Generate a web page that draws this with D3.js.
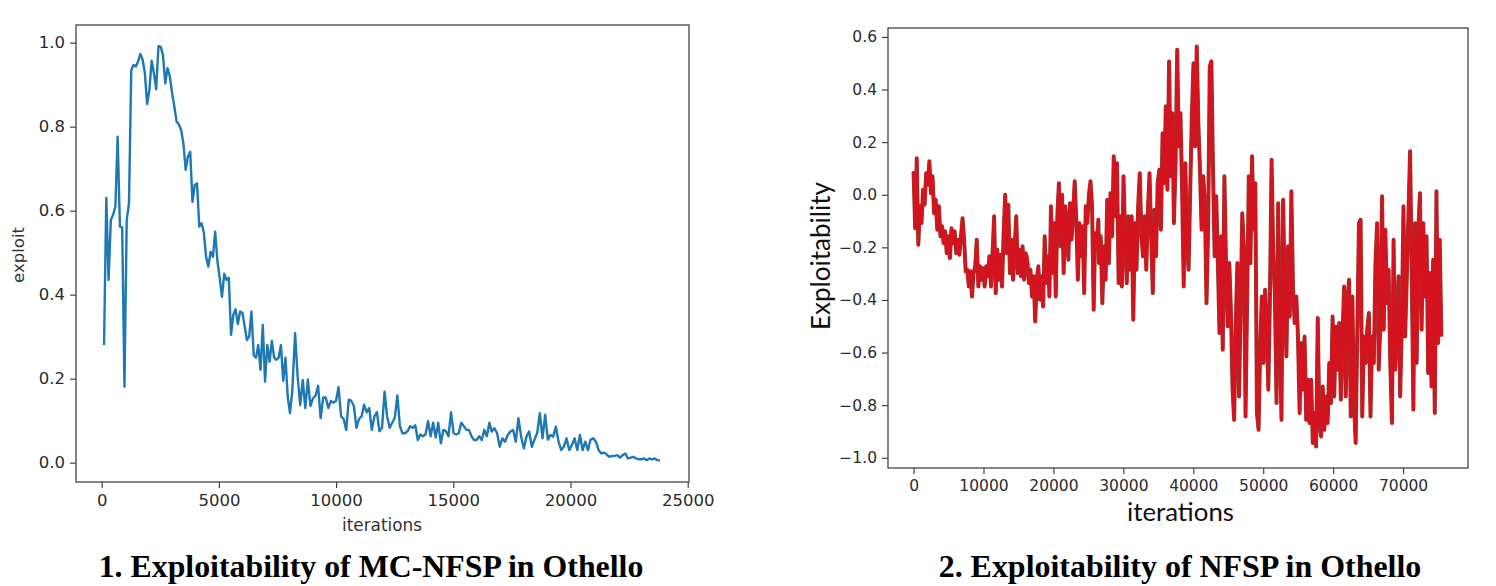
<!DOCTYPE html>
<html><head><meta charset="utf-8">
<script src="https://cdn.jsdelivr.net/npm/d3@7"></script>
<style>body{margin:0;background:#fff}</style>
</head><body><svg id="c" width="1496" height="586"></svg>
<script>
// ---- Chart 1: MC-NFSP exploitability ----
const mcValuesA = [0.28,0.63,0.435,0.578,0.59,0.61,0.776,0.562,0.56,0.181,
0.578,0.617,0.935,0.947,0.943,0.955,0.973,0.96,0.927,0.854,
0.887,0.957,0.927,0.889,0.992,0.99,0.97,0.903,0.939,0.92,
0.88,0.848,0.812,0.805,0.792,0.76,0.697,0.729,0.74,0.621,
0.661,0.665,0.562,0.57,0.548,0.49,0.467,0.502,0.49,0.55,
0.48,0.44,0.395,0.45,0.435,0.44,0.304,0.352,0.365,0.33,
0.36,0.357,0.325,0.292,0.30,0.36,0.256,0.25,0.28,0.221,
0.328,0.193,0.28,0.24,0.29,0.25,0.245,0.25,0.28,0.195,
0.25,0.157,0.118,0.17];
const mcValuesB = [0.308,0.205,0.137,0.197,0.13,0.198,0.135,0.153,0.16,0.183,
0.106,0.155,0.155,0.13,0.147,0.143,0.147,0.18,0.11,0.104,
0.078,0.15,0.147,0.135,0.083,0.104,0.11,0.138,0.12,0.13,
0.078,0.11,0.12,0.075,0.083,0.169,0.11,0.083,0.095,0.107,
0.16,0.087,0.07,0.07,0.075,0.087,0.083,0.089,0.054,0.067,
0.063,0.067,0.099,0.063,0.095,0.06,0.095,0.046,0.078,0.075,
0.063,0.12,0.07,0.067,0.07,0.095,0.087,0.078,0.078,0.063,
0.054,0.054,0.063,0.054,0.078,0.063,0.095];
const mcValuesC = [0.074,0.082,0.07,0.038,0.058,0.05,0.066,0.074,0.078,0.05,
0.106,0.062,0.034,0.062,0.074,0.038,0.055,0.07,0.118,0.058,
0.114,0.055,0.066,0.062,0.086,0.05,0.03,0.038,0.058,0.03,
0.042,0.058,0.03,0.066,0.03,0.05,0.03,0.055,0.058,0.05,
0.03,0.022,0.024,0.02,0.014,0.016,0.016,0.018,0.012,0.018,
0.022,0.01,0.012,0.014,0.01,0.008,0.008,0.01,0.006,0.01,
0.008,0.01,0.006,0.005];
const mcSpans = [[100,8130],[8250,16540],[16640,23820]];
const mcXTicks = [0,5000,10000,15000,20000,25000];
const mcYTicks = [0.0,0.2,0.4,0.6,0.8,1.0];

// ---- Chart 2: NFSP exploitability ----
const nfValuesA = [0.089,-0.127,0.139,-0.19,-0.044,-0.108,0.019,-0.038,0.082,0.038,
0.127,0.006,0.07,-0.07,-0.019,-0.133,-0.044,-0.158,-0.12,-0.184,
-0.139,-0.222,-0.158,-0.241,-0.127,-0.184,-0.139,-0.222,-0.171,-0.228,
-0.158,-0.089,-0.171,-0.291,-0.285,-0.349,-0.291,-0.387,-0.298,-0.272,
-0.171,-0.349,-0.272,-0.323,-0.279,-0.349,-0.272,-0.31,-0.234,-0.349,
-0.222,-0.082,-0.374,-0.209,-0.323,-0.228,-0.349,-0.146,0,-0.222,
-0.038,-0.298,-0.171,-0.323,-0.196,-0.082,-0.298,-0.209,-0.31,-0.196,
-0.323,-0.222,-0.247,-0.336,-0.285,-0.387,-0.31,-0.482,-0.323,-0.272,
-0.399,-0.31,-0.425,-0.158,-0.336,-0.234,-0.387,-0.044,-0.298,-0.108,
-0.387,-0.082,0.044,-0.196,0,-0.298,-0.044,-0.12,-0.247,-0.032,
-0.171,-0.07,0.051,-0.095,-0.323,-0.108,-0.234,-0.12,-0.374,-0.044,
-0.108,0,0.051,-0.044,-0.437,-0.146,-0.196,-0.095];
const nfValuesB = [-0.26,-0.158,-0.412,-0.196,-0.323,-0.019,-0.26,0.006,-0.158,0.146,
-0.082,0.12,-0.336,-0.082,-0.349,0.07,-0.158,-0.336,-0.082,-0.285,
-0.082,-0.475,-0.108,-0.285,-0.044,0.082,-0.158,-0.234,-0.082,-0.285,
-0.057,0.082,-0.158,-0.374,-0.057,-0.234,0.044,0.095,-0.133,0.234,
0.044,0.336,0.019,0.507,0.07,0.31,-0.108,0.12,0.551,0.184,
0.31,0.019,-0.349,0.12,-0.184,-0.285,0.019,0.298,0.5,0.184,
0.564,0.272,0.095,-0.133,0.07,-0.032,-0.412,-0.133,0.488,0.507,
0.095,-0.234,-0.006,-0.26,-0.526,-0.158,-0.589,0.07,-0.26,-0.5,
-0.26,-0.437,-0.741,-0.856,-0.475,-0.26,-0.767,-0.425,-0.07,-0.209,
-0.843,-0.387,0.07,-0.26,0.146,-0.133,0.044,-0.83,-0.894,-0.577,
-0.387,-0.64,-0.361,-0.488,-0.741,-0.387,0.133,-0.209];
const nfValuesC = [-0.387,-0.792,-0.032,-0.513,-0.856,-0.019,-0.387,-0.615,-0.196,-0.463,
0.013,-0.361,-0.488,-0.387,-0.539,-0.83,-0.564,-0.741,-0.539,-0.856,
-0.703,-0.868,-0.703,-0.944,-0.83,-0.957,-0.469,-0.868,-0.919,-0.729,
-0.894,-0.767,-0.868,-0.64,-0.792,-0.463,-0.767,-0.501,-0.665,-0.488,
-0.779,-0.539,-0.349,-0.767,-0.412,-0.323,-0.843,-0.387,-0.792,-0.944,
-0.513,-0.108,-0.095,-0.843,-0.539,-0.64,-0.513,-0.45,-0.843,-0.539,
-0.64,-0.26,-0.108,-0.665,-0.488,-0.006,-0.513,-0.133,-0.412,-0.285,
-0.64,-0.868,-0.171,-0.665,-0.488,-0.31,-0.767,-0.488,-0.044,-0.539,
-0.323,-0.082,0.165,-0.285,-0.817,-0.108,-0.64,-0.133,0.006,-0.513,
-0.108,-0.387,-0.158,-0.678,-0.298,-0.729,-0.247,-0.83,0.013,-0.564,
-0.171,-0.539];
const nfSpans = [[0,26430],[26530,51430],[51670,75480]];
const nfXTicks = [0,10000,20000,30000,40000,50000,60000,70000];
const nfYTicks = [-1.0,-0.8,-0.6,-0.4,-0.2,0.0,0.2,0.4,0.6];

const captions = ["1. Exploitability of MC-NFSP in Othello", "2. Exploitability of NFSP in Othello"];

function spread(values, span){
  const n = values.length;
  return values.map((v,i)=>({x: span[0] + (span[1]-span[0])*i/(n-1), y: v}));
}
const mcData = [].concat(spread(mcValuesA,mcSpans[0]), spread(mcValuesB,mcSpans[1]), spread(mcValuesC,mcSpans[2]));
const nfData = [].concat(spread(nfValuesA,nfSpans[0]), spread(nfValuesB,nfSpans[1]), spread(nfValuesC,nfSpans[2]));

const svg = d3.select('#c');
svg.append('rect').attr('width',1496).attr('height',586).attr('fill','#fff');

function fit(sel, target){
  const w = sel.node().getComputedTextLength();
  sel.attr('font-size', parseFloat(sel.attr('font-size')) * target / w);
}

function panel(o){
  const x = d3.scaleLinear().domain(o.xd).range([o.l, o.r]);
  const y = d3.scaleLinear().domain(o.yd).range([o.b, o.t]);
  const g = svg.append('g');
  const ax = g.append('g').attr('transform',`translate(0,${o.b})`)
    .call(d3.axisBottom(x).tickValues(o.xt).tickFormat(d3.format('d')).tickSize(6).tickPadding(6));
  const ay = g.append('g').attr('transform',`translate(${o.l},0)`)
    .call(d3.axisLeft(y).tickValues(o.yt).tickFormat(d3.format('.1f')).tickSize(6).tickPadding(5));
  [ax, ay].forEach(a=>{
    a.select('.domain').remove();
    a.selectAll('line').attr('stroke','#333').attr('stroke-width',1.1);
    a.selectAll('text').attr('fill','#2b2b2b').attr('font-family','DejaVu Sans').attr('font-size',o.tfs);
  });
  const line = d3.line().x(d=>x(d.x)).y(d=>y(d.y));
  o.strokes.forEach(s=>{
    g.append('path').datum(o.data).attr('d',line).attr('fill','none')
      .attr('stroke',s[0]).attr('stroke-width',s[1]).attr('stroke-linejoin','round');
  });
  g.append('rect').attr('x',o.l).attr('y',o.t).attr('width',o.r-o.l).attr('height',o.b-o.t)
    .attr('fill','none').attr('stroke','#444').attr('stroke-width',1.3);
  return g;
}

panel({l:76,r:689,t:25,b:482,xd:[-1096,25055],yd:[-0.046,1.042],xt:mcXTicks,yt:mcYTicks,
  tfs:16.5,data:mcData,strokes:[['#1f77b4',2.4]]});
panel({l:888,r:1468,t:28,b:468,xd:[-3657,79286],yd:[-1.039,0.634],xt:nfXTicks,yt:nfYTicks,
  tfs:15.5,data:nfData,strokes:[['#9a3a2c',4.0],['#d3131f',2.8]]});

// axis labels
const xl1 = svg.append('text').attr('x',382).attr('y',531).attr('text-anchor','middle')
  .attr('font-family','DejaVu Sans').attr('font-size',17).attr('fill','#333').text('iterations');
fit(xl1, 80);
const yl1 = svg.append('text').attr('transform','translate(24,255) rotate(-90)').attr('text-anchor','middle')
  .attr('font-family','DejaVu Sans').attr('font-size',17).attr('fill','#333').text('exploit');
fit(yl1, 56);
const xl2 = svg.append('text').attr('x',1180.5).attr('y',521).attr('text-anchor','middle')
  .attr('font-family','Lato').attr('font-size',27).attr('fill','#111').text('iterations');
fit(xl2, 107);
const yl2 = svg.append('text').attr('transform','translate(830,256) rotate(-90)').attr('text-anchor','middle')
  .attr('font-family','Lato').attr('font-size',27).attr('fill','#111').text('Exploitability');
fit(yl2, 148);

// captions
const c1 = svg.append('text').attr('x',371).attr('y',577).attr('text-anchor','middle')
  .attr('font-family','Liberation Serif').attr('font-weight','bold').attr('font-size',29).attr('fill','#000').text(captions[0]);
fit(c1, 545);
const c2 = svg.append('text').attr('x',1180).attr('y',577).attr('text-anchor','middle')
  .attr('font-family','Liberation Serif').attr('font-weight','bold').attr('font-size',29).attr('fill','#000').text(captions[1]);
fit(c2, 483);
</script></body></html>
